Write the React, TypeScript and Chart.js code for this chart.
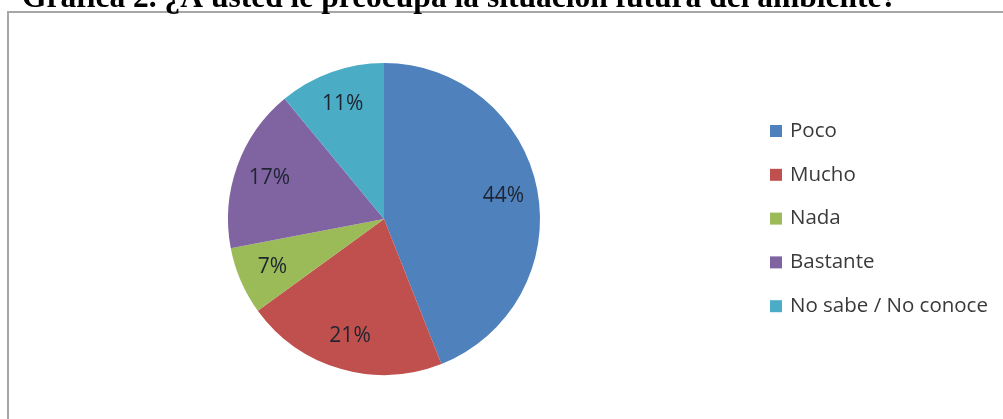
import React, { useEffect, useRef } from "react";
import { Chart, registerables } from "chart.js";

Chart.register(...registerables);

const TITLE = "Gráfica 2. ¿A usted le preocupa la situación futura del ambiente?";
const categories = ["Poco", "Mucho", "Nada", "Bastante", "No sabe / No conoce"];
const values = [44, 21, 7, 17, 11];
const colors = ["#4F81BD", "#C0504D", "#9BBB59", "#8064A2", "#4BACC6"];

const framePlugin = {
  id: "frame",
  beforeDraw(chart: any) {
    const ctx = chart.ctx;
    ctx.save();
    ctx.fillStyle = "#ffffff";
    ctx.fillRect(0, 0, chart.width, chart.height);
    ctx.strokeStyle = "#a6a6a6";
    ctx.lineWidth = 2;
    ctx.beginPath();
    ctx.moveTo(8, chart.height + 2);
    ctx.lineTo(8, 12);
    ctx.lineTo(chart.width + 2, 12);
    ctx.stroke();
    ctx.fillStyle = "#000000";
    ctx.font = "bold 31.5px 'Liberation Serif', 'Times New Roman', serif";
    ctx.textBaseline = "alphabetic";
    ctx.textAlign = "left";
    ctx.fillText(TITLE, 22, 7);
    ctx.restore();
  },
};

const labelPlugin = {
  id: "sliceLabels",
  afterDatasetsDraw(chart: any) {
    const ctx = chart.ctx;
    const meta = chart.getDatasetMeta(0);
    const data = chart.data.datasets[0].data as number[];
    ctx.save();
    ctx.fillStyle = "#1e2430";
    ctx.font = "21px 'Open Sans', sans-serif";
    ctx.textAlign = "center";
    ctx.textBaseline = "middle";
    meta.data.forEach((arc: any, i: number) => {
      const p = arc.getProps(["x", "y", "startAngle", "endAngle", "outerRadius"], true);
      const mid = (p.startAngle + p.endAngle) / 2;
      const r = p.outerRadius * 0.78;
      ctx.fillText(data[i] + "%", p.x + Math.cos(mid) * r, p.y + Math.sin(mid) * r);
    });
    ctx.restore();
  },
};

const legendPlugin = {
  id: "customLegend",
  afterDraw(chart: any) {
    const ctx = chart.ctx;
    const labels = chart.data.labels as string[];
    const bg = chart.data.datasets[0].backgroundColor as string[];
    ctx.save();
    ctx.font = "20.5px 'Open Sans', sans-serif";
    ctx.textAlign = "left";
    ctx.textBaseline = "middle";
    labels.forEach((lab, i) => {
      const y = 131 + i * 43.8;
      ctx.fillStyle = bg[i];
      ctx.fillRect(770, y - 6, 12, 12);
      ctx.fillStyle = "#3a3a3a";
      ctx.fillText(lab, 790, y);
    });
    ctx.restore();
  },
};

export default function App() {
  const ref = useRef<HTMLCanvasElement>(null);
  useEffect(() => {
    if (!ref.current) return;
    const chart = new Chart(ref.current, {
      type: "pie",
      data: {
        labels: categories,
        datasets: [
          {
            data: values,
            backgroundColor: colors,
            borderWidth: 0,
          },
        ],
      },
      options: {
        responsive: false,
        animation: false,
        devicePixelRatio: 1,
        layout: { padding: { top: 63, bottom: 44, left: 228, right: 463 } },
        plugins: {
          legend: { display: false },
          tooltip: { enabled: false },
          title: { display: false },
        },
      },
      plugins: [framePlugin, labelPlugin, legendPlugin],
    });
    return () => chart.destroy();
  }, []);
  return (
    <div style={{ position: "fixed", left: 0, top: 0, width: 1003, height: 419, background: "#fff" }}>
      <canvas ref={ref} width={1003} height={419} style={{ display: "block" }} />
    </div>
  );
}
